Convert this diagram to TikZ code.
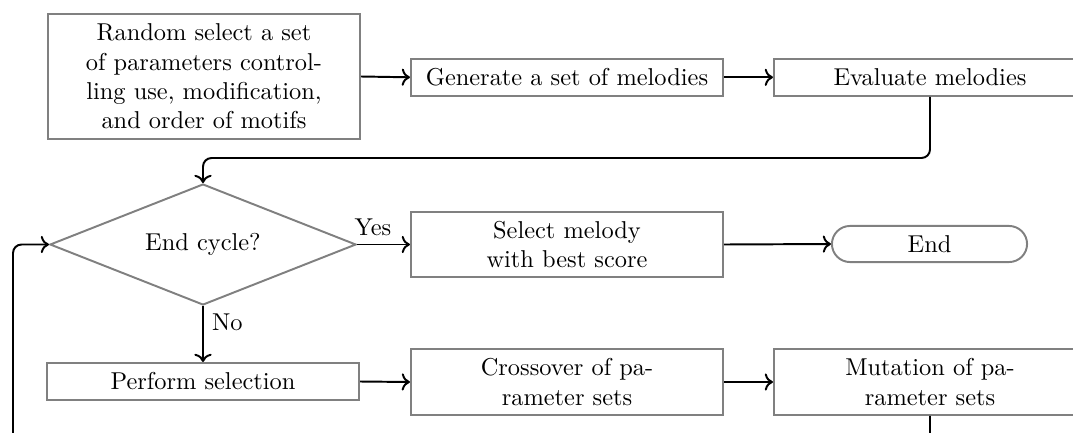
\documentclass[tikz,border=0pt]{standalone}
\usetikzlibrary{shapes.geometric,arrows.meta}
\begin{document}
\begin{tikzpicture}[x=0.41pt, y=-0.41pt,
  box/.style={draw=black!50, line width=0.8pt, rectangle, minimum width=128pt,
    minimum height=15.2pt, inner sep=2.5pt, align=center},
  twoline/.style={box, minimum height=26.9pt},
  decision/.style={draw=black!50, line width=0.8pt, diamond, aspect=2.5,
    minimum width=125.5pt, minimum height=49.6pt, inner sep=1pt},
  terminal/.style={draw=black!50, line width=0.8pt, rectangle, rounded corners=7.4pt,
    minimum width=80pt, minimum height=14.8pt, inner sep=2pt},
  conn/.style={line width=0.8pt, ->, rounded corners=3.5pt}]
  \clip (0,0) rectangle (1073,432);

  % top row
  \node[box, minimum height=51.3pt] (init) at (204,76.5) {Random select a set\\of parameters control-\\ling use, modification,\\and order of motifs};
  \node[box] (gen)  at (567,77.3) {Generate a set of melodies};
  \node[box] (eval) at (930,77.3) {Evaluate melodies};

  % middle row
  \node[decision] (cyc) at (203,244.5) {End cycle?};
  \node[twoline] (best) at (567,244.5) {Select melody\\with best score};
  \node[terminal] (fin) at (929.5,244) {End};

  % bottom row
  \node[box] (sel) at (203,381.5) {Perform selection};
  \node[twoline] (cross) at (567,382) {Crossover of pa-\\rameter sets};
  \node[twoline] (mut) at (930,382) {Mutation of pa-\\rameter sets};

  % routing points
  \coordinate (split) at (203,158);
  \coordinate (loopL) at (13,460);

  \draw[conn] (init.east) -- (gen.west);
  \draw[conn] (gen.east) -- (eval.west);
  \draw[conn] (eval.south) |- (split) -- (cyc.north);
  \draw[conn] (cyc.east) -- node[above, pos=0.3] {Yes} (best.west);
  \draw[conn] (best.east) -- (fin.west);
  \draw[conn] (cyc.south) -- node[right, pos=0.3] {No} (sel.north);
  \draw[conn] (sel.east) -- (cross.west);
  \draw[conn] (cross.east) -- (mut.west);
  \draw[conn] (mut.south) |- (loopL) |- (cyc.west);
\end{tikzpicture}
\end{document}
